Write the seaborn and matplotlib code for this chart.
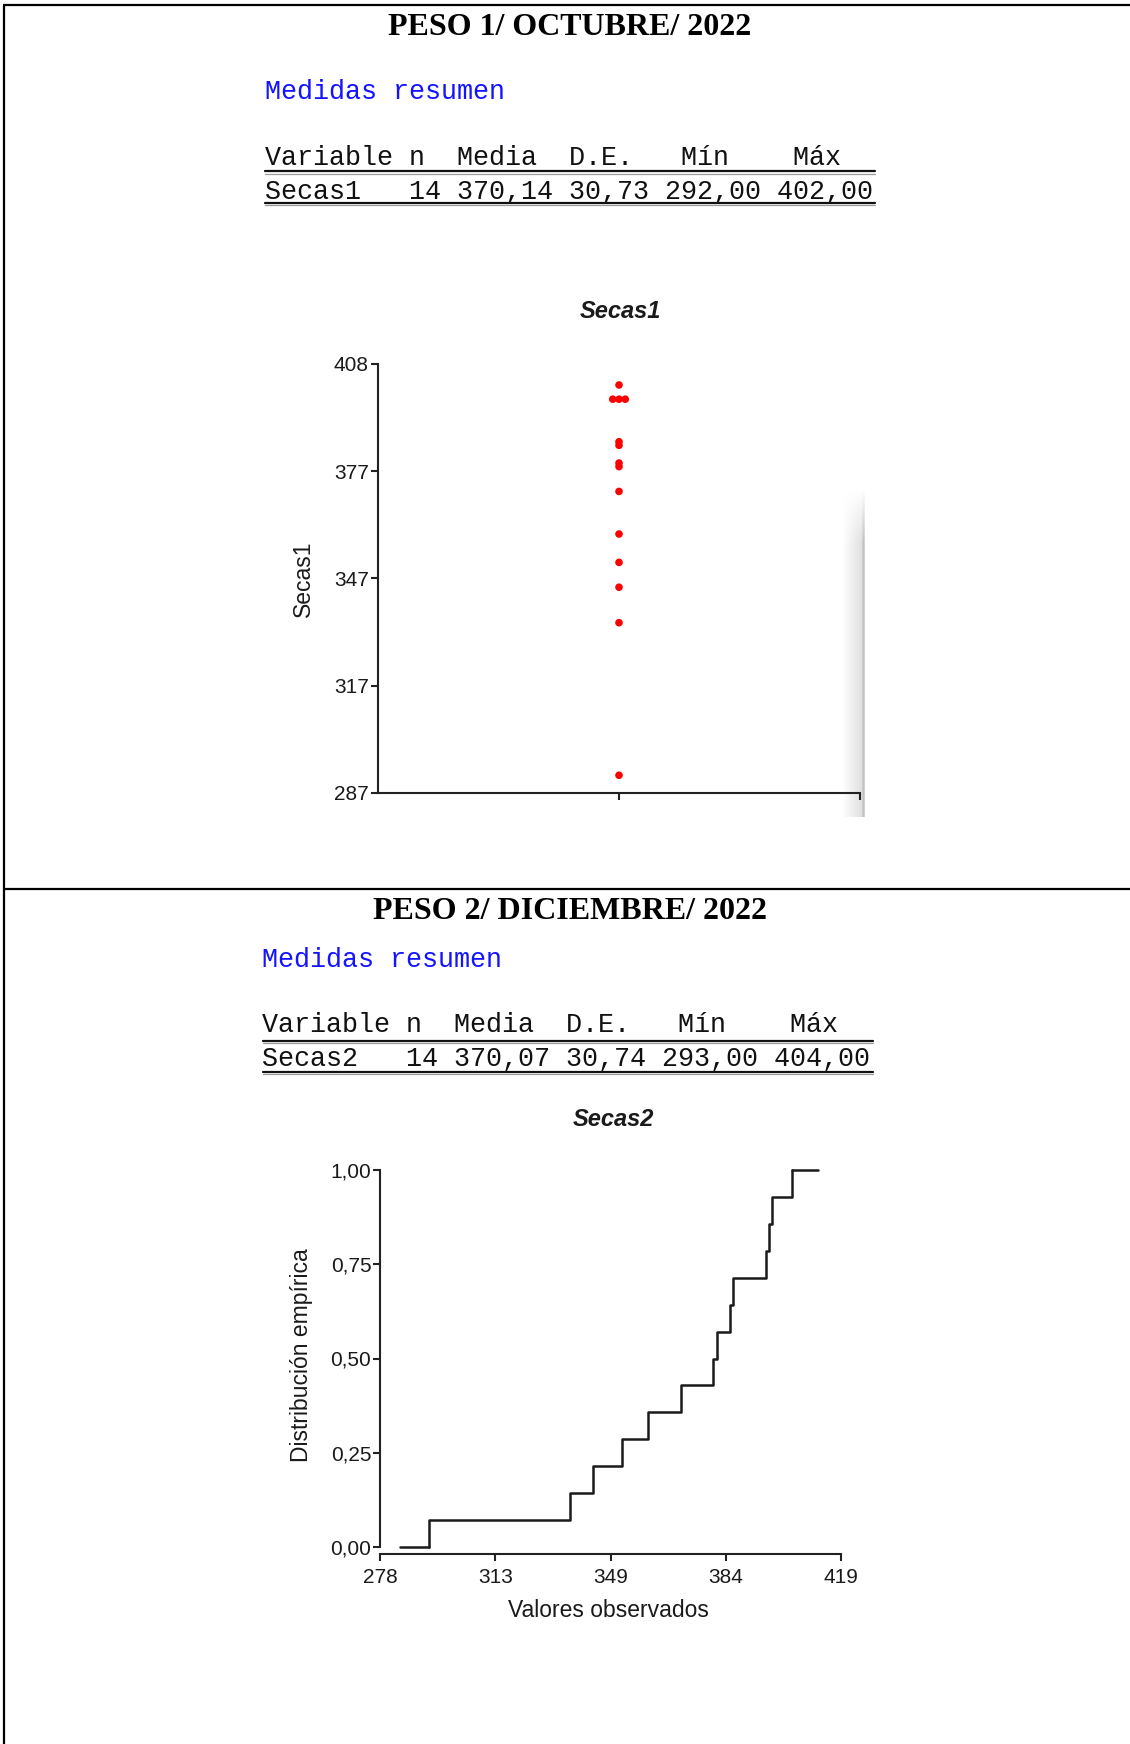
import numpy as np
import pandas as pd
import matplotlib
matplotlib.use("Agg")
import matplotlib.pyplot as plt
from matplotlib.lines import Line2D
import seaborn as sns

# ---------------- data ----------------
page_titles = ["PESO 1/ OCTUBRE/ 2022", "PESO 2/ DICIEMBRE/ 2022"]
summary_heading = "Medidas resumen"
table_columns = ["Variable", "n", "Media", "D.E.", "Mín", "Máx"]
table1_row = ["Secas1", "14", "370,14", "30,73", "292,00", "402,00"]
table2_row = ["Secas2", "14", "370,07", "30,74", "293,00", "404,00"]

secas1 = [292, 335, 345, 352, 360, 372, 379, 380, 385, 386, 398, 398, 398, 402]
secas1_ylim = [287, 408]
secas1_yticklabels = ["287", "317", "347", "377", "408"]

secas2 = [293, 336, 343, 352, 360, 370, 380, 381, 385, 386, 396, 397, 398, 404]
secas2_xlim = [278, 419]
secas2_xticklabels = ["278", "313", "349", "384", "419"]
ecdf_yticks = [0.0, 0.25, 0.5, 0.75, 1.0]
ecdf_yticklabels = ["0,00", "0,25", "0,50", "0,75", "1,00"]
ecdf_tail_ends = [284, 412]

# ---------------- setup ----------------
W, H = 1130, 1744
sns.set_style("ticks")
plt.rcParams["font.family"] = ["Liberation Sans", "DejaVu Sans"]
plt.rcParams["axes.linewidth"] = 1.5
plt.rcParams["xtick.major.width"] = 1.5
plt.rcParams["ytick.major.width"] = 1.5
plt.rcParams["axes.edgecolor"] = "#222222"

fig = plt.figure(figsize=(W / 100, H / 100), dpi=100)


def fx(px):
    return px / W


def fy(py):
    return 1 - py / H


# page borders
border_kw = dict(color="black", lw=1.6, solid_capstyle="butt")
fig.add_artist(Line2D([fx(3), fx(W)], [fy(5), fy(5)], **border_kw))
fig.add_artist(Line2D([fx(4), fx(4)], [fy(5), fy(H)], **border_kw))
fig.add_artist(Line2D([fx(4), fx(W)], [fy(889.5), fy(889.5)], **border_kw))

serif = ["Liberation Serif", "DejaVu Serif"]
mono = ["Liberation Mono", "DejaVu Sans Mono"]


def header_line(c):
    return f"{c[0]:<8} {c[1]:<2} {c[2]:<6} {c[3]:<5}  {c[4]:<3}    {c[5]}"


def row_line(r):
    return f"{r[0]:<8} {r[1]:>2} {r[2]:>6} {r[3]:>5} {r[4]:>6} {r[5]:>6}"


def summary_block(title_y, title, x0, med_y, head_y, line1_y, row_y, line2_y, row, x1):
    fig.text(fx(570), fy(title_y), title, family=serif, fontweight="bold",
             fontsize=23, ha="center", va="center", color="black")
    fig.text(fx(x0), fy(med_y), summary_heading, family=mono, fontsize=19.3,
             color="#1414ff", ha="left", va="center")
    fig.text(fx(x0), fy(head_y), header_line(table_columns), family=mono,
             fontsize=19.3, color="#111111", ha="left", va="center")
    fig.text(fx(x0), fy(row_y), row_line(row), family=mono,
             fontsize=19.3, color="#111111", ha="left", va="center")
    for ly in (line1_y, line2_y):
        fig.add_artist(Line2D([fx(x0), fx(x1)], [fy(ly), fy(ly)], color="#111111", lw=1.6))
        fig.add_artist(Line2D([fx(x0), fx(x1)], [fy(ly + 2.2), fy(ly + 2.2)], color="#9a9a9a", lw=0.9))


summary_block(27.5, page_titles[0], 264.7, 92, 158, 171.5, 191.5, 203, table1_row, 875)
summary_block(911, page_titles[1], 262.5, 960, 1025, 1040.5, 1058.5, 1072, table2_row, 873)

tick_fs = 15
label_fs = 16.5
title_fs = 17
txt_col = "#1a1a1a"

# screenshot shadow at the right of the dot plot (drawn beneath the axes)
sh_ax = fig.add_axes([fx(842), fy(817), (865 - 842) / W, (817 - 487) / H], zorder=0)
cols = np.linspace(1.0, 0.86, 23)
cols[-3:] = [0.80, 0.76, 0.82]
grad = np.tile(cols, (60, 1))
fade = np.clip(np.linspace(0, 1, 60) * 6, 0, 1)[:, None]
grad = 1 - (1 - grad) * fade
sh_ax.imshow(grad, cmap="gray", vmin=0, vmax=1, aspect="auto", interpolation="bilinear")
sh_ax.set_axis_off()

# ---------------- dot plot (Secas1) ----------------
ax1 = fig.add_axes([fx(378), fy(793), (860 - 378) / W, (793 - 363.7) / H], zorder=2)
ax1.patch.set_alpha(0)
df1 = pd.DataFrame({"Secas1": secas1})
tie_rank = df1.groupby("Secas1").cumcount()
df1["pos"] = tie_rank.map({0: 0.0, 1: -1.0, 2: 1.0}) * 0.026
sns.scatterplot(data=df1, x="pos", y="Secas1", color="#ff0000", s=30,
                edgecolor="none", ax=ax1, clip_on=False, zorder=3)
ax1.set_xlim(-1, 1)
ax1.set_ylim(*secas1_ylim)
ax1.set_yticks(np.linspace(secas1_ylim[0], secas1_ylim[1], len(secas1_yticklabels)))
ax1.set_yticklabels(secas1_yticklabels)
ax1.set_xticks([0, 1])
ax1.set_xticklabels([])
ax1.tick_params(axis="both", length=5, color="#222222", labelsize=tick_fs,
                labelcolor=txt_col, pad=1.5)
sns.despine(ax=ax1)
ax1.set_xlabel("")
ax1.set_ylabel("Secas1", fontsize=label_fs, color=txt_col)
ax1.yaxis.set_label_coords((314.5 - 378) / 482, 0.5)
fig.text(fx(620.6), fy(311.4), "Secas1", fontsize=title_fs, fontweight="bold",
         fontstyle="italic", ha="center", va="center", color=txt_col)

# ---------------- ECDF (Secas2) ----------------
ax2 = fig.add_axes([fx(380.4), fy(1547), (840.8 - 380.4) / W, (1547 - 1170) / H])
sns.ecdfplot(x=secas2, ax=ax2, color="#1a1a1a", lw=1.8)
for ln in ax2.lines:
    ln.set_clip_on(False)
ax2.plot([ecdf_tail_ends[0], min(secas2)], [0, 0], color="#1a1a1a", lw=1.8, clip_on=False)
ax2.plot([max(secas2), ecdf_tail_ends[1]], [1, 1], color="#1a1a1a", lw=1.8, clip_on=False)
ax2.set_xlim(*secas2_xlim)
ax2.set_ylim(0, 1)
ax2.set_xticks(np.linspace(secas2_xlim[0], secas2_xlim[1], len(secas2_xticklabels)))
ax2.set_xticklabels(secas2_xticklabels)
ax2.set_yticks(ecdf_yticks)
ax2.set_yticklabels(ecdf_yticklabels)
ax2.tick_params(axis="y", length=5, color="#222222", labelsize=tick_fs,
                labelcolor=txt_col, pad=1.5)
ax2.tick_params(axis="x", length=5, color="#222222", labelsize=tick_fs,
                labelcolor=txt_col, pad=5)
sns.despine(ax=ax2)
ax2.spines["bottom"].set_position(("outward", 5))
ax2.set_xlabel("Valores observados", fontsize=label_fs, color=txt_col)
ax2.set_ylabel("Distribución empírica", fontsize=label_fs, color=txt_col)
ax2.yaxis.set_label_coords((313 - 380.4) / 460.4, 0.51)
ax2.xaxis.set_label_coords((608 - 380.4) / 460.4, (1547 - 1599) / 377)
fig.text(fx(613), fy(1119), "Secas2", fontsize=title_fs, fontweight="bold",
         fontstyle="italic", ha="center", va="center", color=txt_col)

fig.savefig("out.png", dpi=100, facecolor="white")
